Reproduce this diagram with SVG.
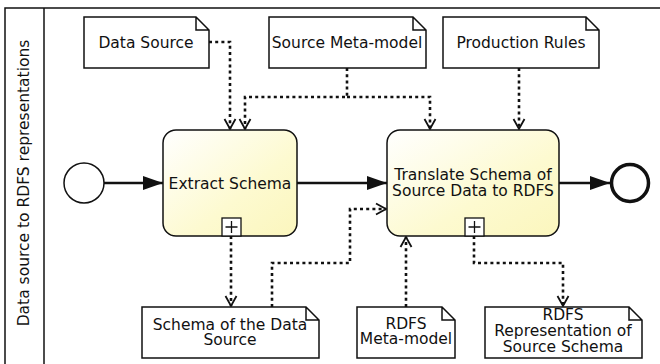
<svg xmlns="http://www.w3.org/2000/svg" width="660" height="364" viewBox="0 0 660 364">
<style>
text{font-family:"DejaVu Sans","Liberation Sans",sans-serif;font-size:15.5px;fill:#111;text-anchor:middle}
.doc{fill:#fff;stroke:#111;stroke-width:1.5}
.task{fill:url(#tg);stroke:#111;stroke-width:1.5}
.data{fill:none;stroke:#111;stroke-width:2.6;stroke-dasharray:3 3.2}
.seq{fill:none;stroke:#111;stroke-width:2.6}
.mk{fill:#fff;stroke:#111;stroke-width:1.3}
</style>
<defs>
<linearGradient id="tg" x1="0" y1="0" x2="1" y2="1">
<stop offset="0" stop-color="#ffffff"/>
<stop offset="0.6" stop-color="#fdfad0"/>
<stop offset="1" stop-color="#fbf6bd"/>
</linearGradient>
<marker id="open" markerUnits="userSpaceOnUse" markerWidth="14" markerHeight="14" viewBox="0 0 14 14" refX="12" refY="7" orient="auto">
<path d="M2,1.5 L12,7 L2,12.5" fill="none" stroke="#111" stroke-width="1.8" stroke-dasharray="none"/>
</marker>
<marker id="filled" markerUnits="userSpaceOnUse" markerWidth="22" markerHeight="16" viewBox="0 0 22 16" refX="21" refY="8" orient="auto">
<path d="M1,1 L21,8 L1,15 z" fill="#111" stroke="none"/>
</marker>
</defs>
<g id="pool">
<rect x="5" y="8" width="670" height="370" fill="#fff" stroke="#111" stroke-width="1.5"/>
<line x1="44" y1="8" x2="44" y2="378" stroke="#111" stroke-width="1.5"/>
<text transform="translate(29,183) rotate(-90)">Data source to RDFS representations</text>
</g>
<g id="connectors">
<path class="data" d="M209,42 H230 V129" marker-end="url(#open)"/>
<path class="data" d="M347,68 V97 H245 V129" marker-end="url(#open)"/>
<path class="data" d="M347,97 H430 V129" marker-end="url(#open)"/>
<path class="data" d="M519,68 V129" marker-end="url(#open)"/>
<path class="data" d="M231,236 V306" marker-end="url(#open)"/>
<path class="data" d="M272,307 V263 H350 V209 H386" marker-end="url(#open)"/>
<path class="data" d="M406,307 V237" marker-end="url(#open)"/>
<path class="data" d="M474,236 V263 H563 V306" marker-end="url(#open)"/>
<path class="seq" d="M104,183 H163" marker-end="url(#filled)"/>
<path class="seq" d="M297,183 H387" marker-end="url(#filled)"/>
<path class="seq" d="M559,183 H610" marker-end="url(#filled)"/>
</g>
<g id="start">
<circle cx="84" cy="183" r="20" fill="#fff" stroke="#111" stroke-width="1.5"/>
</g>
<g id="end">
<circle cx="630" cy="183" r="18.5" fill="#fff" stroke="#111" stroke-width="3.5"/>
</g>
<g id="extract">
<rect class="task" x="163" y="130" width="134" height="106" rx="13"/>
<text x="230" y="189">Extract Schema</text>
<rect class="mk" x="222" y="218" width="19" height="18"/>
<path d="M231.5,221 V233 M225.5,227 H237.5" stroke="#111" stroke-width="1.3"/>
</g>
<g id="translate">
<rect class="task" x="387" y="130" width="172" height="106" rx="13"/>
<text x="473" y="180">Translate Schema of</text>
<text x="473" y="196">Source Data to RDFS</text>
<rect class="mk" x="465" y="218" width="19" height="18"/>
<path d="M474.5,221 V233 M468.5,227 H480.5" stroke="#111" stroke-width="1.3"/>
</g>
<g id="doc-data-source">
<path class="doc" d="M84,17 H196 L209,30 V68 H84 Z M196,17 V30 H209"/>
<text x="146" y="48">Data Source</text>
</g>
<g id="doc-source-meta">
<path class="doc" d="M269,17 H413 L426,30 V68 H269 Z M413,17 V30 H426"/>
<text x="347" y="48">Source Meta-model</text>
</g>
<g id="doc-production">
<path class="doc" d="M443,17 H586 L599,30 V68 H443 Z M586,17 V30 H599"/>
<text x="521" y="48">Production Rules</text>
</g>
<g id="doc-schema">
<path class="doc" d="M142,307 H306 L319,320 V358 H142 Z M306,307 V320 H319"/>
<text x="230" y="330">Schema of the Data</text>
<text x="230" y="345">Source</text>
</g>
<g id="doc-rdfs-meta">
<path class="doc" d="M357,307 H442 L455,320 V358 H357 Z M442,307 V320 H455"/>
<text x="406" y="329">RDFS</text>
<text x="406" y="344">Meta-model</text>
</g>
<g id="doc-rdfs-rep">
<path class="doc" d="M485,307 H629 L642,320 V358 H485 Z M629,307 V320 H642"/>
<text x="563" y="320">RDFS</text>
<text x="563" y="336">Representation of</text>
<text x="563" y="352">Source Schema</text>
</g>
</svg>
